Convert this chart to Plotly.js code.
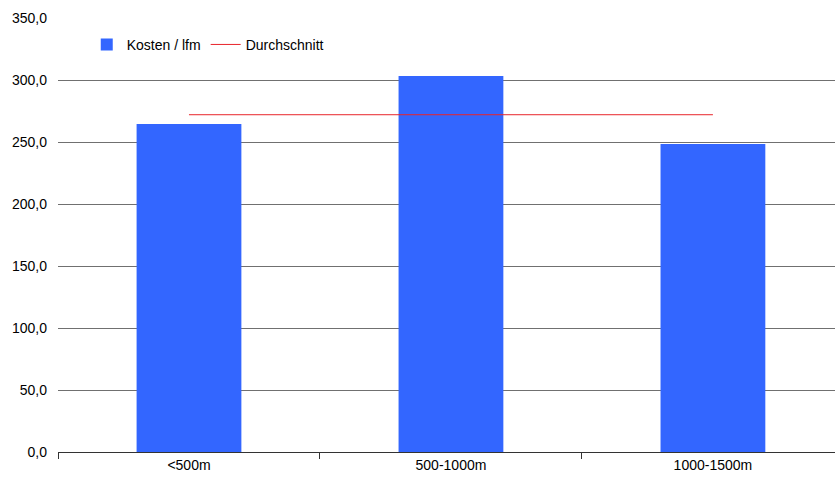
<!DOCTYPE html>
<html>
<head>
<meta charset="utf-8">
<script src="https://cdn.plot.ly/plotly-3.0.1.min.js"></script>
<style>html,body{margin:0;padding:0;background:#fff;}#chart{width:835px;height:483px;}</style>
</head>
<body>
<div id="chart"></div>
<script>
const categories = ['<500m', '500-1000m', '1000-1500m'];
const kosten = [264.5, 303.2, 248.4];
const avgX = ['<500m', '1000-1500m'];
const avgY = [272.0, 272.0];
const yTicks = [0, 50, 100, 150, 200, 250, 300, 350];

const traces = [
  {
    type: 'bar', x: categories, y: kosten, name: 'Kosten / lfm',
    marker: {color: '#3366ff'}, width: 0.4, hoverinfo: 'x+y'
  },
  {
    type: 'scatter', mode: 'lines', x: avgX, y: avgY, name: 'Durchschnitt',
    line: {color: '#e8242b', width: 1}
  }
];

const layout = {
  width: 835, height: 483,
  margin: {l: 58, r: 0, t: 18, b: 31},
  paper_bgcolor: '#ffffff', plot_bgcolor: '#ffffff',
  separators: ',.',
  font: {family: 'Liberation Sans, Arial, sans-serif', size: 14, color: '#000'},
  showlegend: true,
  legend: {
    orientation: 'h', x: 0.037, y: 0.975, xanchor: 'left', yanchor: 'top',
    bgcolor: 'rgba(0,0,0,0)', font: {size: 14}, itemwidth: 30, tracegroupgap: 0
  },
  xaxis: {
    type: 'category', range: [-0.5, 2.466],
    tickson: 'boundaries', ticks: 'outside', ticklen: 6, tickcolor: '#333',
    showline: true, linecolor: '#333', linewidth: 1,
    showgrid: false, zeroline: false, fixedrange: true
  },
  yaxis: {
    range: [0, 350], tickvals: yTicks, tickformat: '.1f',
    showgrid: true, gridcolor: '#707070', gridwidth: 1,
    zeroline: false, showline: false, ticks: '', ticklabelstandoff: 10,
    fixedrange: true
  },
  bargap: 0.6
};

Plotly.newPlot('chart', traces, layout, {displayModeBar: false, staticPlot: true});
</script>
</body>
</html>
